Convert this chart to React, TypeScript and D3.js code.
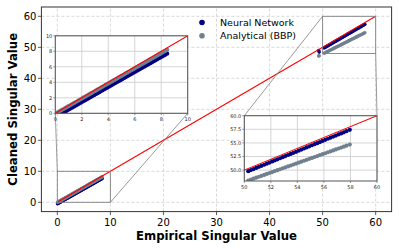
import React from 'react';
import * as d3 from 'd3';

// bulk of the spectrum (empirical -> cleaned)
const bulkEmpirical = [0.05, 0.18, 0.3, 0.43, 0.55, 0.68, 0.8, 0.93, 1.05, 1.18, 1.3, 1.43, 1.55, 1.68, 1.8, 1.93, 2.05, 2.18, 2.3, 2.43, 2.55, 2.68, 2.8, 2.93, 3.05, 3.18, 3.3, 3.43, 3.55, 3.68, 3.8, 3.93, 4.05, 4.18, 4.3, 4.43, 4.55, 4.68, 4.8, 4.93, 5.05, 5.18, 5.3, 5.43, 5.55, 5.68, 5.8, 5.93, 6.05, 6.18, 6.3, 6.43, 6.55, 6.68, 6.8, 6.93, 7.05, 7.18, 7.3, 7.43, 7.55, 7.68, 7.8, 7.93, 8.05, 8.18, 8.3, 8.45];
const bulkNN = [-0.45, -0.33, -0.21, -0.08, 0.03, 0.16, 0.28, 0.4, 0.52, 0.64, 0.76, 0.89, 1.0, 1.13, 1.25, 1.37, 1.49, 1.61, 1.73, 1.86, 1.97, 2.1, 2.22, 2.34, 2.46, 2.58, 2.7, 2.83, 2.94, 3.07, 3.19, 3.31, 3.43, 3.55, 3.67, 3.8, 3.91, 4.04, 4.16, 4.28, 4.4, 4.52, 4.64, 4.77, 4.88, 5.01, 5.13, 5.25, 5.37, 5.49, 5.61, 5.74, 5.85, 5.98, 6.1, 6.22, 6.34, 6.46, 6.58, 6.71, 6.82, 6.95, 7.07, 7.19, 7.31, 7.43, 7.55, 7.7];
const bulkBBP = [0.0, 0.13, 0.24, 0.37, 0.49, 0.61, 0.73, 0.86, 0.97, 1.1, 1.22, 1.34, 1.46, 1.59, 1.71, 1.83, 1.95, 2.08, 2.19, 2.32, 2.44, 2.56, 2.68, 2.81, 2.92, 3.05, 3.17, 3.29, 3.41, 3.54, 3.66, 3.78, 3.9, 4.03, 4.14, 4.27, 4.39, 4.51, 4.63, 4.76, 4.87, 5.0, 5.12, 5.24, 5.36, 5.49, 5.61, 5.73, 5.85, 5.98, 6.09, 6.22, 6.34, 6.46, 6.58, 6.71, 6.82, 6.95, 7.07, 7.19, 7.31, 7.44, 7.56, 7.68, 7.8, 7.93, 8.04, 8.19];

// outliers (signal) part
const outEmpirical = [49.25, 49.35, 50.3, 50.5, 50.7, 50.9, 51.1, 51.3, 51.5, 51.7, 51.9, 52.1, 52.3, 52.5, 52.7, 52.9, 53.1, 53.3, 53.5, 53.7, 53.9, 54.1, 54.3, 54.5, 54.7, 54.9, 55.1, 55.3, 55.5, 55.7, 55.9, 56.1, 56.3, 56.5, 56.7, 56.9, 57.1, 57.3, 57.5, 57.7, 57.95];
const outNN = [48.95, 48.45, 49.8, 50.0, 50.2, 50.4, 50.6, 50.79, 50.99, 51.19, 51.39, 51.59, 51.79, 51.98, 52.18, 52.38, 52.58, 52.78, 52.98, 53.18, 53.37, 53.57, 53.77, 53.97, 54.17, 54.37, 54.57, 54.77, 54.96, 55.16, 55.36, 55.56, 55.76, 55.96, 56.16, 56.35, 56.55, 56.75, 56.95, 57.15, 57.4];
const outBBP = [47.18, 47.26, 48.09, 48.26, 48.43, 48.61, 48.78, 48.95, 49.12, 49.3, 49.47, 49.64, 49.82, 49.99, 50.16, 50.34, 50.51, 50.68, 50.85, 51.03, 51.2, 51.37, 51.55, 51.72, 51.89, 52.07, 52.24, 52.41, 52.58, 52.76, 52.93, 53.1, 53.28, 53.45, 53.62, 53.8, 53.97, 54.14, 54.31, 54.49, 54.7];

const mainTicks = [0, 10, 20, 30, 40, 50, 60];
const inset1Ticks = [0, 2, 4, 6, 8, 10];
const inset2XTicks = [50, 52, 54, 56, 58, 60];
const inset2YTicks = [50, 52.5, 55, 57.5, 60];
const diagonal = [0, 60];

const seriesNames = ['Neural Network', 'Analytical (BBP)'];
const colors = ['#000080', '#708090'];

const W = 399;
const H = 249;
const FONT = 'DejaVu Sans, sans-serif';

type Pt = { x: number; y: number };
const zip = (xs: number[], ys: number[]): Pt[] => xs.map((v, i) => ({ x: v, y: ys[i] }));

const series = [
  zip([...bulkEmpirical, ...outEmpirical], [...bulkNN, ...outNN]),
  zip([...bulkEmpirical, ...outEmpirical], [...bulkBBP, ...outBBP]),
];

const Scatter = ({ x, y, r }: { x: any; y: any; r: number }) => (
  <g>
    {series.map((pts, si) => (
      <g key={si}>
        {pts.map((p, i) => (
          <circle key={i} cx={x(p.x)} cy={y(p.y)} r={r} fill={colors[si]} />
        ))}
      </g>
    ))}
  </g>
);

const Inset = ({ id, x, y, xTicks, yTicks, fmt }: any) => {
  const [x0, x1] = x.range();
  const [y0, y1] = y.range();
  return (
    <g>
      <clipPath id={id}>
        <rect x={x0} y={y1} width={x1 - x0} height={y0 - y1} />
      </clipPath>
      <rect x={x0} y={y1} width={x1 - x0} height={y0 - y1} fill="#fff" />
      {xTicks.map((t: number) => (
        <line key={'gx' + t} x1={x(t)} x2={x(t)} y1={y0} y2={y1} stroke="#d0d0d0" strokeWidth={0.9} />
      ))}
      {yTicks.map((t: number) => (
        <line key={'gy' + t} x1={x0} x2={x1} y1={y(t)} y2={y(t)} stroke="#d0d0d0" strokeWidth={0.9} />
      ))}
      <g clipPath={`url(#${id})`}>
        <Scatter x={x} y={y} r={2.1} />
        <line x1={x(diagonal[0])} y1={y(diagonal[0])} x2={x(diagonal[1])} y2={y(diagonal[1])} stroke="#ff0000" strokeWidth={1.1} />
      </g>
      <rect x={x0} y={y1} width={x1 - x0} height={y0 - y1} fill="none" stroke="#555" strokeWidth={1} />
      {xTicks.map((t: number) => (
        <g key={'tx' + t}>
          <line x1={x(t)} x2={x(t)} y1={y0} y2={y0 + 2} stroke="#555" strokeWidth={0.6} />
          <text x={x(t)} y={y0 + 8} fontSize={5} textAnchor="middle" fill="#222" fontFamily={FONT}>{t}</text>
        </g>
      ))}
      {yTicks.map((t: number) => (
        <g key={'ty' + t}>
          <line x1={x0 - 2} x2={x0} y1={y(t)} y2={y(t)} stroke="#555" strokeWidth={0.6} />
          <text x={x0 - 3} y={y(t) + 1.8} fontSize={5} textAnchor="end" fill="#222" fontFamily={FONT}>{fmt(t)}</text>
        </g>
      ))}
    </g>
  );
};

export default function App() {
  const x = d3.scaleLinear().domain([-3, 63]).range([41.4, 391.6]);
  const y = d3.scaleLinear().domain([-3, 63]).range([211.6, 7]);

  const ix1 = d3.scaleLinear().domain([0, 10]).range([55.3, 187.7]);
  const iy1 = d3.scaleLinear().domain([0, 10]).range([113.3, 35.8]);
  const ix2 = d3.scaleLinear().domain([50, 60]).range([244.3, 377]);
  const iy2 = d3.scaleLinear().domain([48, 60]).range([181, 115.7]);

  const [px0, px1] = x.range();
  const [py0, py1] = y.range();

  const boxes = [
    { bx: ix1.domain(), by: iy1.domain(), links: [
      [x(ix1.domain()[0]), y(iy1.domain()[1]), ix1.range()[0], iy1.range()[0]],
      [x(ix1.domain()[1]), y(iy1.domain()[0]), ix1.range()[1], iy1.range()[0]],
    ] },
    { bx: ix2.domain(), by: iy2.domain(), links: [
      [x(ix2.domain()[0]), y(iy2.domain()[1]), ix2.range()[0], iy2.range()[1]],
      [x(ix2.domain()[1]), y(iy2.domain()[0]), ix2.range()[1], iy2.range()[1]],
    ] },
  ];

  return (
    <div style={{ position: 'absolute', left: 0, top: 0 }}>
      <svg width={W} height={H} style={{ display: 'block', background: '#fff' }}>
        <defs>
          <clipPath id="main-clip">
            <rect x={px0} y={py1} width={px1 - px0} height={py0 - py1} />
          </clipPath>
        </defs>
        {/* grid */}
        {mainTicks.map(t => (
          <g key={'g' + t}>
            <line x1={x(t)} x2={x(t)} y1={py0} y2={py1} stroke="#cfcfcf" strokeWidth={0.8} strokeDasharray="3,2" />
            <line x1={px0} x2={px1} y1={y(t)} y2={y(t)} stroke="#cfcfcf" strokeWidth={0.8} strokeDasharray="3,2" />
          </g>
        ))}
        <g clipPath="url(#main-clip)">
          <Scatter x={x} y={y} r={1.8} />
          <line x1={x(diagonal[0])} y1={y(diagonal[0])} x2={x(diagonal[1])} y2={y(diagonal[1])} stroke="#ff0000" strokeWidth={1.1} />
          {boxes.map((b, i) => (
            <g key={i}>
              <rect x={x(b.bx[0])} y={y(b.by[1])} width={x(b.bx[1]) - x(b.bx[0])} height={y(b.by[0]) - y(b.by[1])} fill="none" stroke="#808080" strokeWidth={0.9} />
              {b.links.map((l, j) => (
                <line key={j} x1={l[0]} y1={l[1]} x2={l[2]} y2={l[3]} stroke="#808080" strokeWidth={0.8} />
              ))}
            </g>
          ))}
        </g>
        {/* spines */}
        <rect x={px0} y={py1} width={px1 - px0} height={py0 - py1} fill="none" stroke="#333" strokeWidth={1} />
        {mainTicks.map(t => (
          <g key={'t' + t}>
            <line x1={x(t)} x2={x(t)} y1={py0} y2={py0 + 3.5} stroke="#333" strokeWidth={0.8} />
            <text x={x(t)} y={py0 + 14} fontSize={10} textAnchor="middle" fontFamily={FONT} fill="#000">{t}</text>
            <line x1={px0 - 3.5} x2={px0} y1={y(t)} y2={y(t)} stroke="#333" strokeWidth={0.8} />
            <text x={px0 - 5} y={y(t) + 3.6} fontSize={10} textAnchor="end" fontFamily={FONT} fill="#000">{t}</text>
          </g>
        ))}
        <text x={(px0 + px1) / 2} y={239.5} fontSize={11.7} fontWeight="bold" textAnchor="middle" fontFamily={FONT}>Empirical Singular Value</text>
        <text transform={`translate(17,${(py0 + py1) / 2}) rotate(-90)`} fontSize={11.7} fontWeight="bold" textAnchor="middle" fontFamily={FONT}>Cleaned Singular Value</text>

        {/* legend */}
        {seriesNames.map((n, i) => (
          <g key={n}>
            <circle cx={202} cy={22.5 + i * 13.3} r={2.8} fill={colors[i]} />
            <text x={220} y={25.8 + i * 13.3} fontSize={9.5} fontFamily={FONT} fill="#000">{n}</text>
          </g>
        ))}

        <Inset id="inset1" x={ix1} y={iy1} xTicks={inset1Ticks} yTicks={inset1Ticks} fmt={(t: number) => String(t)} />
        <Inset id="inset2" x={ix2} y={iy2} xTicks={inset2XTicks} yTicks={inset2YTicks} fmt={(t: number) => t.toFixed(1)} />
      </svg>
    </div>
  );
}
